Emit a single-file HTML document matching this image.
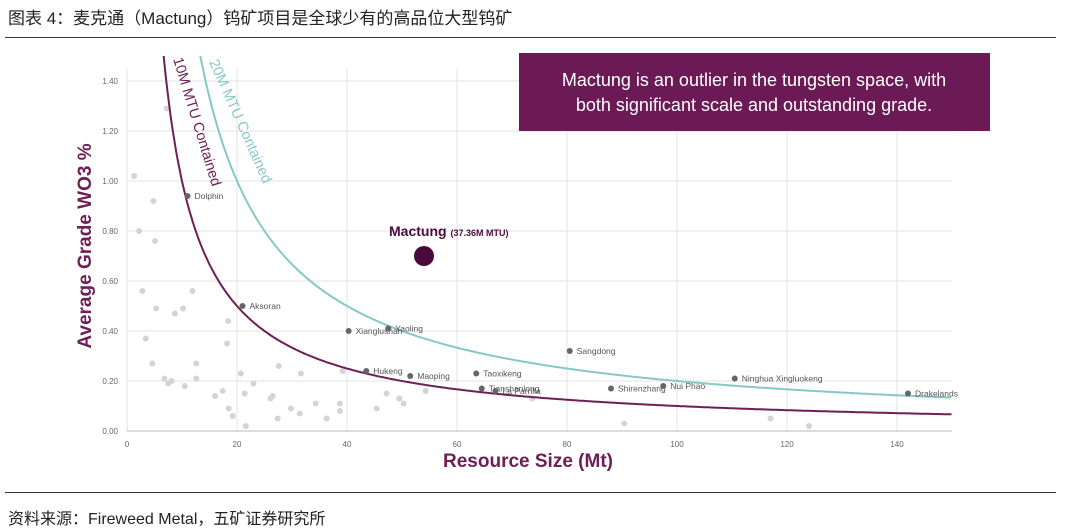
<!DOCTYPE html>
<html><head><meta charset="utf-8">
<style>
body{margin:0;width:1080px;height:531px;background:#fff;overflow:hidden;font-family:"Liberation Sans","Noto Sans CJK SC",sans-serif;}
</style></head>
<body>
<div style="position:absolute;left:8px;top:4px;font-size:17px;color:#222;">图表 4：麦克通（Mactung）钨矿项目是全球少有的高品位大型钨矿</div>
<div style="position:absolute;left:5px;top:37px;width:1051px;height:1px;background:#333;"></div>
<svg id="chart" width="1080" height="531" style="position:absolute;left:0;top:0" font-family="Liberation Sans, sans-serif"></svg>
<div style="position:absolute;left:5px;top:492px;width:1051px;height:1px;background:#333;"></div>
<div style="position:absolute;left:8px;top:505px;font-size:16px;color:#222;">资料来源：Fireweed Metal，五矿证券研究所</div>
<script>
const xTicks=[0,20,40,60,80,100,120,140];
const yTicks=[0,0.2,0.4,0.6,0.8,1.0,1.2,1.4];
const curveTotals=[10,20];
const curveLabels=["10M MTU Contained","20M MTU Contained"];
const namedNames=["Dolphin","Aksoran","Xianglushan","Yaoling","Hukeng","Maoping","Taoxikeng","Tianshanlong","La Parrilla","Sangdong","Shirenzhang","Nui Phao","Ninghua Xingluokeng","Drakelands"];
const namedSize=[11,21,40.3,47.5,43.5,51.5,63.5,64.5,67,80.5,88,97.5,110.5,142];
const namedGrade=[0.94,0.50,0.40,0.41,0.24,0.22,0.23,0.17,0.16,0.32,0.17,0.18,0.21,0.15];
const greySize=[1.3,7.2,4.8,2.2,5.1,2.8,11.9,5.3,10.2,8.7,3.4,18.4,18.2,4.6,12.6,6.8,8.1,7.5,10.5,12.6,16,17.4,18.5,19.2,20.7,21.4,21.6,23,26.1,26.5,27.6,27.4,29.8,31.4,31.6,34.3,36.3,38.7,38.7,39.2,45.4,47.2,49.5,50.3,54.3,73.7,90.4,117,124];
const greyGrade=[1.02,1.29,0.92,0.80,0.76,0.56,0.56,0.49,0.49,0.47,0.37,0.44,0.35,0.27,0.27,0.21,0.20,0.19,0.18,0.21,0.14,0.16,0.09,0.06,0.23,0.15,0.02,0.19,0.13,0.14,0.26,0.05,0.09,0.07,0.23,0.11,0.05,0.11,0.08,0.24,0.09,0.15,0.13,0.11,0.16,0.13,0.03,0.05,0.02];
const mactungSize=[54];
const mactungGrade=[0.70];
const NS="http://www.w3.org/2000/svg";
const svg=document.getElementById('chart');
const X=v=>127+v*5.5;
const Y=v=>431-v*250;
function mk(tag,attrs,parent){const e=document.createElementNS(NS,tag);for(const k in attrs)e.setAttribute(k,attrs[k]);(parent||svg).appendChild(e);return e;}
xTicks.forEach(t=>{
 const l=mk('line',{x1:X(t),x2:X(t),y1:Y(1.45),y2:Y(0),stroke:'#e3e3e3','stroke-width':1});
 
 
 const tx=mk('text',{x:X(t),y:447,'font-size':8,fill:'#666','text-anchor':'middle'});tx.textContent=t;
 
 
});
yTicks.forEach(t=>{
 const l=mk('line',{x1:X(0),x2:X(150),y1:Y(t),y2:Y(t),stroke:t===0?'#bbb':'#e3e3e3','stroke-width':1});
 
 
 const tx=mk('text',{x:118,y:Y(t)+3,'font-size':8,fill:'#666','text-anchor':'end'});tx.textContent=t.toFixed(2);
 
 
});
greySize.forEach((s,i)=>{
 const c=mk('circle',{cx:X(s),cy:Y(greyGrade[i]),r:3,fill:'#d4d4d4'});
 
 
});
const colors=['#6d1f56','#86c8c6'];
curveTotals.forEach((T,k)=>{
 let d='';let first=true;
 for(let s=T/1.5;s<=150;s+=0.25){const g=T/s;if(g>1.5)continue;d+=(first?'M':'L')+X(s).toFixed(1)+','+Y(g).toFixed(1);first=false;}
 const p=mk('path',{d:d,fill:'none',stroke:colors[k],'stroke-width':2});
 
 
});
const l1=mk('text',{x:0,y:0,'font-size':14.5,fill:'#6d1f56',transform:'translate(173,59) rotate(73)'});l1.textContent=curveLabels[0];


const l2=mk('text',{x:0,y:0,'font-size':14.5,fill:'#86c8c6',transform:'translate(209,62) rotate(66)'});l2.textContent=curveLabels[1];


namedSize.forEach((s,i)=>{
 const c=mk('circle',{cx:X(s),cy:Y(namedGrade[i]),r:3,fill:'#666'});
 
 
 const t=mk('text',{x:X(s)+7,y:Y(namedGrade[i])+3,'font-size':8.5,fill:'#555'});t.textContent=namedNames[i];
 
 
});
const m=mk('circle',{cx:X(mactungSize[0]),cy:Y(mactungGrade[0]),r:10,fill:'#4a0a3c'});


const mt=mk('text',{x:X(mactungSize[0])-35,y:Y(mactungGrade[0])-20,'font-size':14,'font-weight':'bold',fill:'#4a0a3c'});
mt.innerHTML='Mactung <tspan font-size="9">(37.36M MTU)</tspan>';


const yt=mk('text',{x:0,y:0,'font-size':19,'font-weight':'bold',fill:'#6d1f56','text-anchor':'middle',transform:'translate(91,246) rotate(-90)'});yt.textContent='Average Grade WO3 %';


const xt=mk('text',{x:528,y:467,'font-size':19,'font-weight':'bold',fill:'#6d1f56','text-anchor':'middle'});xt.textContent='Resource Size (Mt)';


const box=mk('rect',{x:519,y:53,width:471,height:78,fill:'#6b1a55'});


const c1=mk('text',{x:754,y:86,'font-size':18,fill:'#fff','text-anchor':'middle'});c1.textContent='Mactung is an outlier in the tungsten space, with';


const c2=mk('text',{x:754,y:111,'font-size':18,fill:'#fff','text-anchor':'middle'});c2.textContent='both significant scale and outstanding grade.';


</script>
</body></html>
